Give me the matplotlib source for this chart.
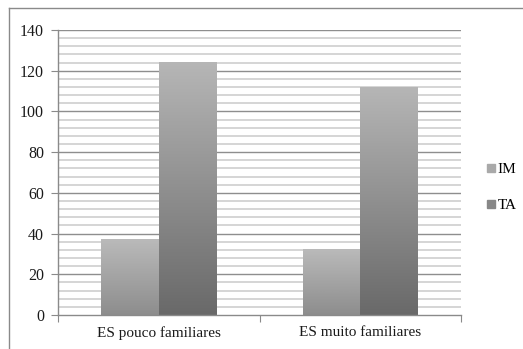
import matplotlib.pyplot as plt
import numpy as np
from matplotlib.colors import LinearSegmentedColormap
from matplotlib.lines import Line2D

categories = ["ES pouco familiares", "ES muito familiares"]
series_names = ["IM", "TA"]
im_values = [37, 32]
ta_values = [124, 112]
y_ticks = [0, 20, 40, 60, 80, 100, 120, 140]

C_AXIS = "#8a8a8a"
C_MAJOR = "#8e8e8e"
C_MINOR = "#d2d2d2"
C_TEXT = "#1a1a1a"
FONT = "Liberation Serif"
FS = 11

BAR_STYLES = {
    "IM": ("#bababa", "#8d8d8d", "#a9a9a9"),
    "TA": ("#b6b6b6", "#696969", "#878787"),
}


def gradient_bar(ax, x0, width, height, top, bottom):
    cmap = LinearSegmentedColormap.from_list("g", [bottom, top])
    grad = np.linspace(0, 1, 256).reshape(-1, 1)
    ax.imshow(grad, cmap=cmap, origin="lower", aspect="auto",
              extent=[x0, x0 + width, 0, height], zorder=3, interpolation="bicubic")


def main():
    fig = plt.figure(figsize=(5.23, 3.49), dpi=100)
    ax = fig.add_axes([58 / 523, 34 / 349, 403 / 523, 285 / 349])

    x = np.arange(len(categories))
    width = 0.285
    for vals, name, offset in [(im_values, "IM", -width), (ta_values, "TA", 0.0)]:
        top, bottom, _ = BAR_STYLES[name]
        for xi, v in zip(x, vals):
            gradient_bar(ax, xi + offset, width, v, top, bottom)

    # gridlines: minor every 4, major every 20
    for yv in np.arange(0, 141, 4):
        if yv % 20 == 0:
            if yv > 0:
                ax.axhline(yv, color=C_MAJOR, lw=1.0, zorder=1)
        else:
            ax.axhline(yv, color=C_MINOR, lw=1.3, zorder=1)

    ax.set_xlim(-0.5, 1.5)
    ax.set_ylim(0, 140)
    ax.set_yticks(y_ticks)
    ax.set_yticklabels([str(t) for t in y_ticks], fontsize=11.5, family=FONT, color=C_TEXT)
    ax.set_xticks([-0.5, 0.5, 1.5])
    ax.set_xticklabels([])
    ax.set_xticks(x, minor=True)
    ax.set_xticklabels(categories, minor=True, fontsize=FS, family=FONT, color=C_TEXT)
    ax.tick_params(axis="x", which="minor", length=0, pad=8)
    ax.tick_params(axis="x", which="major", length=5, color=C_AXIS, direction="out")
    ax.tick_params(axis="y", length=5, color=C_AXIS, direction="out", pad=5)

    for side in ["top", "right"]:
        ax.spines[side].set_visible(False)
    for side in ["left", "bottom"]:
        ax.spines[side].set_color(C_AXIS)
        ax.spines[side].set_linewidth(1.0)
    ax.spines["bottom"].set_zorder(4)

    handles = [Line2D([0], [0], marker="s", ls="", markersize=5.5,
                      markerfacecolor=BAR_STYLES[n][2], markeredgecolor=BAR_STYLES[n][2], label=n)
               for n in series_names]
    fig.legend(handles=handles, loc="center left", bbox_to_anchor=(486 / 523, 0.463),
               frameon=False, borderpad=0, borderaxespad=0, handletextpad=0.15,
               labelspacing=1.45, prop={"family": FONT, "size": FS}, handlelength=0.6)

    # outer chart frame
    fig.add_artist(Line2D([9 / 523, 1.0], [1 - 8 / 349, 1 - 8 / 349],
                          transform=fig.transFigure, color="#8a8a8a", lw=1.0))
    fig.add_artist(Line2D([9 / 523, 9 / 523], [0.0, 1 - 8 / 349],
                          transform=fig.transFigure, color="#8a8a8a", lw=1.0))

    fig.savefig("out.png", dpi=100)
    plt.close(fig)


if __name__ == "__main__":
    main()
